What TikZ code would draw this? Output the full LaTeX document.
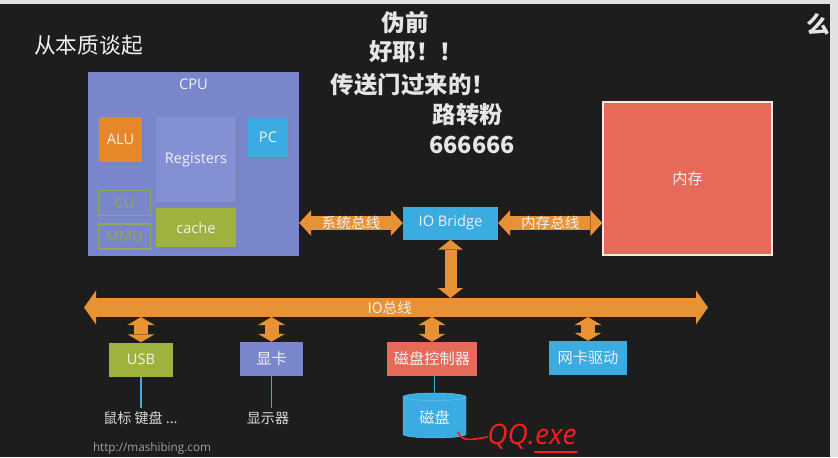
\documentclass[tikz,border=0pt]{standalone}
\usepackage{fontspec}
\setmainfont{Open Sans}
\newfontfamily\cjk{Noto Sans CJK SC}
\usetikzlibrary{positioning,arrows.meta,calc,shapes.geometric,shadows}
\definecolor{board}{RGB}{29,29,29}
\definecolor{chrome}{RGB}{226,226,226}
\definecolor{cpublue}{RGB}{122,134,204}
\definecolor{regblue}{RGB}{131,144,212}
\definecolor{aluorange}{RGB}{232,134,42}
\definecolor{pcblue}{RGB}{58,172,226}
\definecolor{cachegreen}{RGB}{160,178,62}
\definecolor{memred}{RGB}{229,106,90}
\definecolor{busorange}{RGB}{231,146,52}
\definecolor{olive}{RGB}{150,166,82}
\definecolor{txt}{RGB}{240,240,240}
\definecolor{penred}{RGB}{250,30,30}
\tikzset{
  x=0.3mm, y=-0.3mm,
  part/.style={inner sep=0pt, text=txt, font=\fontsize{12.5}{14}\selectfont},
  unit/.style={part, drop shadow={opacity=0.25, shadow xshift=0.5mm, shadow yshift=-0.5mm}},
  ghost/.style={part, draw=olive, line width=0.45mm, text=olive,
                minimum width=15.6mm, minimum height=7.5mm},
  dev/.style={part, minimum height=10.2mm, font=\cjk\fontsize{13}{15}\selectfont},
  devlbl/.style={inner sep=0pt, text=txt!90!black, font=\cjk\fontsize{12}{14}\selectfont},
  buslbl/.style={inner sep=0pt, text=txt, font=\cjk\fontsize{12.5}{14}\selectfont},
  bus/.style={draw=busorange, line width=4.2mm,
              {Triangle[length=3.6mm, width=7.8mm, line width=0pt]}-{Triangle[length=3.6mm, width=7.8mm, line width=0pt]}},
  iobus/.style={draw=busorange, line width=5.7mm,
              {Triangle[length=3.6mm, width=10.2mm, line width=0pt]}-{Triangle[length=3.6mm, width=10.2mm, line width=0pt]}},
  rise/.style={draw=busorange, line width=3.6mm,
              {Triangle[length=3mm, width=7.5mm, line width=0pt]}-{Triangle[length=3mm, width=7.5mm, line width=0pt]}},
  tap/.style={draw=busorange, line width=4.2mm,
              {Triangle[length=2.4mm, width=8.1mm, line width=0pt]}-{Triangle[length=2.4mm, width=8.1mm, line width=0pt]}},
  wire/.style={draw=pcblue, line width=0.35mm},
  danmu/.style={inner sep=0pt, text=white!90!black, font=\cjk\bfseries\fontsize{20}{24}\selectfont},
  pen/.style={draw=penred, line width=0.5mm, line cap=round, line join=round}
}
\begin{document}
\begin{tikzpicture}
  \clip (0,0) rectangle (838,457);
  % board and player chrome
  \fill[board] (0,0) rectangle (838,457);
  \fill[chrome] (0,0) rectangle (838,4);
  \fill[chrome] (830,0) rectangle (838,457);

  \node[inner sep=0pt, text=txt, font=\cjk\fontsize{18.5}{20}\selectfont] (title) at (88.5,45) {从本质谈起};

  % CPU
  \node[fill=cpublue, minimum width=63.3mm, minimum height=55.2mm] (cpu) at (193.5,164) {};
  \node[part, below=2.2mm of cpu.north] (cpulbl) {CPU};
  \node[unit, fill=aluorange, minimum width=12.9mm, minimum height=13.5mm] (alu) at (120.5,139.5) {ALU};
  \node[unit, fill=regblue, minimum width=24mm, minimum height=25.5mm] (regs) at (196,159.5) {Registers};
  \node[unit, fill=pcblue, minimum width=12mm, minimum height=12mm] (pc) at (268,137) {PC};
  \node[ghost] (cu) at (124.5,203) {CU};
  \node[ghost, below=2.1mm of cu] (mmu) {MMU};
  \node[unit, fill=cachegreen, minimum width=24mm, minimum height=11.7mm, below=1.8mm of regs] (cache) {cache};

  % bridge and memory
  \node[part, fill=pcblue, minimum width=28.5mm, minimum height=9.9mm] (iob) at (450.5,223) {IO Bridge};
  \node[part, fill=memred, draw=white!85!memred, line width=0.4mm, minimum width=50.7mm, minimum height=45.9mm,
        font=\cjk\fontsize{13}{15}\selectfont] (mem) at (687.5,178.5) {内存};

  \draw[bus] (cpu.east |- iob.west) -- node[buslbl]{系统总线} (iob.west);
  \draw[bus] (iob.east) -- node[buslbl]{内存总线} (mem.west |- iob.east);

  % IO bus
  \coordinate (busL) at (84,307.5);
  \coordinate (busR) at (708,307.5);
  \coordinate (busT) at (0,298);
  \coordinate (busB) at (0,317);
  \draw[iobus] (busL) -- node[buslbl, pos=0.49]{IO总线} (busR);
  \draw[rise] (iob.south) -- (iob.south |- busT);

  % devices
  \node[dev, fill=cachegreen, minimum width=19.2mm, font=\fontsize{12.5}{14}\selectfont] (usb) at (141,359.5) {USB};
  \node[dev, fill=cpublue, minimum width=18.9mm] (gpu) at (271.5,359) {显卡};
  \node[dev, fill=memred, minimum width=27mm] (dkc) at (432,359) {磁盘控制器};
  \node[dev, fill=pcblue, minimum width=23.4mm] (nic) at (588,358) {网卡驱动};
  \foreach \d in {usb,gpu,dkc,nic}
    \draw[tap] (\d.north |- busB) -- (\d.north);

  \node[devlbl] (mouse) at (140.5,418) {鼠标 键盘 ...};
  \node[devlbl] (screen) at (268,418) {显示器};
  \node[cylinder, shape border rotate=90, aspect=0.25, fill=pcblue, draw=pcblue!75!white, thin,
        minimum width=18.9mm, minimum height=13.5mm, inner sep=0pt, text=txt,
        font=\cjk\fontsize{13}{15}\selectfont] (disk) at (434.5,417.5) {磁盘};
  \draw[wire, shorten >=1mm] (usb.south) -- (usb.south |- mouse.north);
  \draw[wire, shorten >=1mm] (gpu.south) -- (gpu.south |- screen.north);
  \draw[wire] (disk.north |- dkc.south) -- (disk.north);

  % ink on the slide
  \node[inner sep=0pt, text=penred, font=\itshape\fontsize{24}{26}\selectfont] (qq) at (532,437) {QQ.exe};
  \coordinate (ink) at (458,432);
  \draw[pen] (ink) .. controls (462,442) and (470,440) .. (qq.west);
  \draw[pen] ($(qq.south east)+(-42,2)$) -- ($(qq.south east)+(0,2)$);

  % comments scrolling over the video
  \node[danmu] (d1) at (405,23) {伪前};
  \node[danmu] (d2) at (416,52) {好耶！！};
  \node[danmu] (d3) at (413,85) {传送门过来的！};
  \node[danmu] (d4) at (468,115) {路转粉};
  \node[danmu] (d5) at (472,145) {666666};
  \node[danmu] (d6) at (818,24) {么};

  \node[inner sep=0pt, text=gray!75, font=\fontsize{10}{12}\selectfont] (url) at (152,448) {http://mashibing.com};
\end{tikzpicture}
\end{document}
